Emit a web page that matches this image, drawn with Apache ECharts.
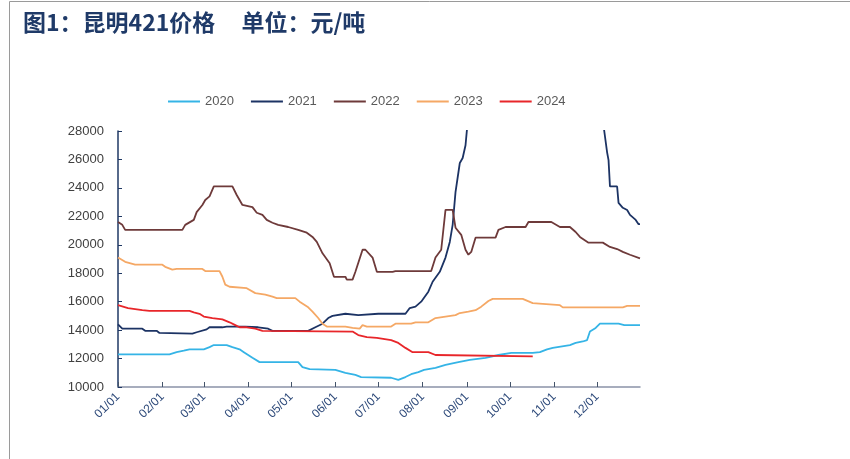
<!DOCTYPE html>
<html><head><meta charset="utf-8">
<script src="https://cdn.jsdelivr.net/npm/echarts@6/dist/echarts.min.js"></script>
<style>html,body{margin:0;padding:0;background:#fff}#c{width:850px;height:459px}</style>
</head><body><div id="c"></div>
<script>
// Tick labels (first day of each month)
const monthLabels = ['01/01','02/01','03/01','04/01','05/01','06/01','07/01','08/01','09/01','10/01','11/01','12/01'];
const seriesNames = ['2020','2021','2022','2023','2024'];
const yTicks = [10000, 28000, 2000]; // min, max, interval

// Series values as [day-of-year index, price]
const s2020 = [[0,12300],[36,12300],[41,12450],[46,12550],[50,12650],[60,12650],[64,12800],[67,12950],[76,12950],[80,12800],[85,12650],[88,12450],[94,12050],[99,11750],[126,11750],[129,11400],[134,11250],[152,11200],[159,11000],[166,10850],[170,10700],[191,10650],[196,10500],[201,10700],[205,10900],[210,11050],[214,11200],[222,11350],[229,11550],[238,11750],[246,11900],[257,12050],[266,12250],[275,12400],[290,12400],[295,12450],[300,12650],[304,12750],[316,12950],[320,13100],[325,13200],[328,13300],[330,13900],[334,14150],[337,14450],[350,14450],[354,14350],[365,14350]];
const s2021 = [[0,14400],[3,14100],[17,14100],[19,13950],[27,13950],[29,13800],[52,13750],[55,13850],[62,14050],[64,14200],[73,14200],[76,14250],[89,14250],[98,14200],[105,14100],[108,13950],[133,13950],[138,14200],[143,14450],[147,14850],[150,15000],[159,15150],[168,15050],[182,15150],[201,15150],[204,15550],[208,15650],[212,16000],[217,16700],[220,17400],[225,18100],[229,19100],[232,20200],[234,21400],[236,23700],[239,25750],[241,26100],[243,27000],[244,28100],[246,30500],[337,30500],[340,28000],[342,26500],[343,25950],[344,24100],[349,24100],[350,22950],[353,22600],[356,22450],[358,22100],[362,21750],[364,21450],[365,21450]];
const s2022 = [[0,21600],[3,21400],[5,21050],[45,21050],[47,21400],[53,21750],[55,22300],[59,22800],[61,23150],[64,23400],[67,24100],[80,24100],[83,23500],[87,22800],[94,22650],[97,22250],[101,22100],[104,21750],[108,21550],[112,21400],[119,21250],[126,21050],[132,20850],[136,20550],[139,20200],[143,19400],[148,18700],[151,17750],[159,17750],[160,17550],[164,17550],[166,18100],[171,19650],[173,19650],[178,19100],[181,18100],[192,18100],[194,18150],[219,18150],[222,19100],[226,19650],[229,22450],[234,22450],[236,21200],[240,20700],[243,19650],[245,19300],[247,19500],[250,20500],[264,20500],[266,21050],[271,21250],[285,21250],[287,21600],[303,21600],[309,21250],[316,21250],[320,20900],[323,20550],[329,20150],[339,20150],[344,19850],[349,19700],[353,19500],[358,19300],[365,19050]];
const s2023 = [[0,19100],[5,18800],[12,18600],[31,18600],[33,18450],[38,18250],[41,18300],[59,18300],[61,18150],[71,18150],[73,17750],[75,17200],[78,17050],[90,16950],[96,16600],[103,16500],[108,16350],[111,16250],[124,16250],[127,16000],[133,15600],[136,15300],[140,14850],[143,14450],[146,14250],[159,14250],[164,14150],[169,14100],[171,14350],[174,14250],[191,14250],[194,14450],[205,14450],[208,14550],[217,14550],[222,14850],[229,14950],[236,15050],[239,15200],[245,15300],[250,15400],[254,15650],[259,16050],[262,16200],[283,16200],[290,15900],[297,15850],[309,15750],[311,15600],[353,15600],[356,15700],[365,15700]];
const s2024 = [[0,15750],[7,15550],[17,15400],[22,15350],[50,15350],[53,15250],[57,15150],[60,14950],[66,14850],[73,14750],[78,14550],[82,14350],[85,14200],[90,14200],[96,14100],[101,13950],[164,13900],[168,13650],[174,13500],[181,13450],[191,13300],[196,13100],[201,12750],[206,12450],[217,12450],[222,12250],[290,12150]];

const colors = ['#35b4e6','#1c3364','#6e3a3a','#f5a865','#e8262a'];

// Daily categories for a leap year (axis categories)
const monthDays = [31,29,31,30,31,30,31,31,30,31,30,31];
const categories = [];
monthDays.forEach((n, m) => { for (let d = 1; d <= n; d++) categories.push(String(m+1).padStart(2,'0') + '/' + String(d).padStart(2,'0')); });
const isMonthStart = (i) => monthLabels.indexOf(categories[i]) >= 0;

const chart = echarts.init(document.getElementById('c'), null, {renderer:'canvas'});
const data = [s2020, s2021, s2022, s2023, s2024];
chart.setOption({
  animation: false,
  backgroundColor: '#fff',
  color: colors,
  graphic: [{
    type: 'polyline', silent: true,
    shape: {points: [[9.5, 459], [9.5, 1.5], [850, 1.5]]},
    style: {stroke: '#9a9a9a', lineWidth: 1, fill: null}
  }],
  title: {
    text: '图1：昆明421价格     单位：元/吨',
    left: 18, top: 6,
    textStyle: {color: '#1f3a68', fontSize: 23, fontWeight: 'bold', fontFamily: '"Noto Sans CJK SC", sans-serif'}
  },
  legend: {
    data: seriesNames,
    left: 163, top: 90,
    icon: 'rect', itemWidth: 32, itemHeight: 2, itemGap: 17, itemStyle: {},
    textStyle: {color: '#595959', fontSize: 13, fontFamily: '"Liberation Sans", sans-serif'}
  },
  grid: {left: 118, right: 210, top: 131, bottom: 72, containLabel: false},
  xAxis: {
    type: 'category',
    data: categories,
    boundaryGap: false,
    axisLine: {lineStyle: {color: '#8a93a8', width: 1.5}},
    axisTick: {inside: true, length: 5, interval: (i) => isMonthStart(i), lineStyle: {color: '#44546a'}},
    axisLabel: {interval: (i) => isMonthStart(i), rotate: 45, color: '#2e4a7a', fontSize: 12, margin: 8},
    splitLine: {show: false}
  },
  yAxis: {
    type: 'value',
    min: yTicks[0], max: yTicks[1], interval: yTicks[2],
    axisLine: {show: true, lineStyle: {color: '#1f3864', width: 1.5}},
    axisTick: {show: true, inside: true, length: 4, lineStyle: {color: '#1f3864'}},
    axisLabel: {color: '#404040', fontSize: 13, margin: 14, formatter: (v) => String(v)},
    splitLine: {show: false}
  },
  series: data.map((d, i) => ({
    name: seriesNames[i], type: 'line', data: d, showSymbol: false, symbol: 'none',
    lineStyle: {width: 1.8, color: colors[i]}, clip: true, z: i === 4 ? 5 : 2
  }))
});
</script></body></html>
